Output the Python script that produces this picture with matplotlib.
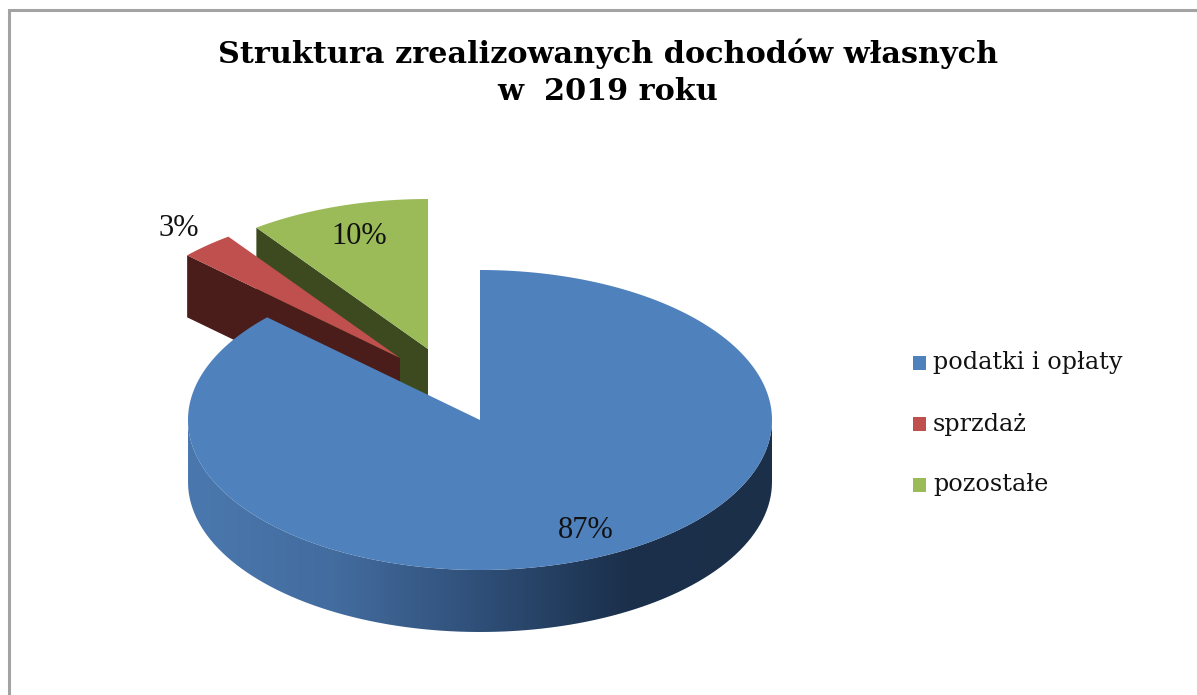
import numpy as np
from matplotlib import pyplot as plt
from matplotlib.colors import LinearSegmentedColormap
from matplotlib.patches import PathPatch, Polygon, Rectangle
from matplotlib.path import Path

title = "Struktura zrealizowanych dochodów własnych\nw  2019 roku"
categories = ["podatki i opłaty", "sprzdaż", "pozostałe"]
values = [87, 3, 10]

top_colors = ["#4f81bd", "#c0504d", "#9bbb59"]
side_colors = ["#2c4a70", "#4a1c1a", "#3d4a20"]
wall_stops = ["#4a78ae", "#436c9f", "#2f4f78", "#1b304b", "#1b2f49"]

# pixel geometry of the fake 3d pie
rx, ry, depth = 292, 150, 62
centers = [(480, 420), (400, 358), (428, 349)]
label_pos = [(586, 531), (179, 228), (359, 236)]
legend_y = [363, 424, 485]


def point(c, deg, drop=0):
    t = np.radians(deg)
    return c[0] + rx * np.sin(t), c[1] - ry * np.cos(t) + drop


def arc(c, a, b, drop=0, n=200):
    t = np.linspace(a, b, n)
    return np.column_stack(point(c, t, drop))


fig = plt.figure(figsize=(11.97, 6.95), dpi=100)
ax = fig.add_axes([0, 0, 1, 1])

# grey frame, open on the right and at the bottom
ax.plot([9, 9, 1197], [695, 10, 10], color="#a3a3a3", lw=2.2, zorder=1,
        solid_joinstyle="miter")

# slice angles clockwise from 12 o'clock
edges = np.cumsum([0] + values) / sum(values) * 360

# exploded slices first, back to front
for i in [2, 1]:
    c, a, b = centers[i], edges[i], edges[i + 1]
    p = point(c, a)
    side = [c, p, (p[0], p[1] + depth), (c[0], c[1] + depth)]
    ax.add_patch(Polygon(side, fc=side_colors[i], ec="none", zorder=2 + (2 - i)))
    top = np.vstack([[c], arc(c, a, b)])
    ax.add_patch(Polygon(top, fc=top_colors[i], ec="none", zorder=2 + (2 - i)))

# outer wall of the big slice with horizontal gradient
c = centers[0]
wall = np.vstack([arc(c, 90, 270), arc(c, 270, 90, depth)])
wall_patch = PathPatch(Path(np.vstack([wall, wall[:1]])), fc="none", ec="none", zorder=5)
ax.add_patch(wall_patch)
cmap = LinearSegmentedColormap.from_list("wall", wall_stops)
img = ax.imshow(np.linspace(0, 1, 256)[None, :], cmap=cmap, aspect="auto", zorder=5,
                extent=(c[0] - rx, c[0] + rx, c[1] + ry + depth, c[1] - ry))
img.set_clip_path(wall_patch)

top = np.vstack([[c], arc(c, edges[0], edges[1], n=600)])
ax.add_patch(Polygon(top, fc=top_colors[0], ec="none", zorder=6))

for txt, pos in zip(values, label_pos):
    ax.text(pos[0], pos[1], "%d%%" % txt, ha="center", va="center", fontsize=22,
            family="Liberation Serif", color="#111111", zorder=7)

ax.text(608, 72, title, ha="center", va="center", fontsize=21.8, weight="bold",
        family="DejaVu Serif", color="black", linespacing=1.33, zorder=7)

for name, col, y in zip(categories, top_colors, legend_y):
    ax.add_patch(Rectangle((913, y - 7), 13, 14, fc=col, ec="none", zorder=7))
    ax.text(933, y, name, ha="left", va="center", fontsize=17.2,
            family="DejaVu Serif", color="#111111", zorder=7)

ax.set_xlim(0, 1197)
ax.set_ylim(695, 0)
ax.axis("off")
fig.savefig("out.png", dpi=100, facecolor="white")
